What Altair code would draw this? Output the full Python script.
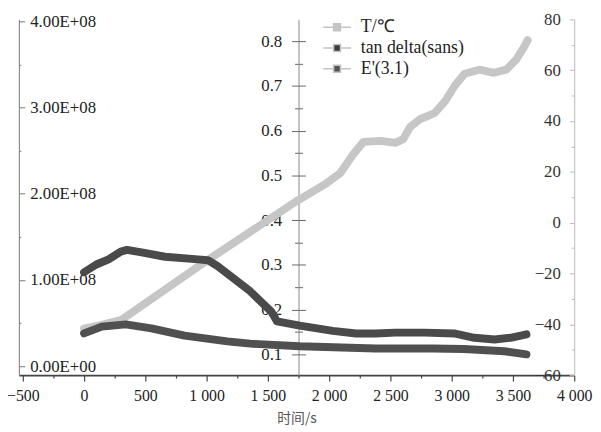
import altair as alt
import pandas as pd

# ---------------- data ----------------
time_T = [0, 145, 306, 1000, 1735, 1975, 2090, 2200, 2280, 2420, 2540, 2605,
          2660, 2740, 2860, 2945, 3025, 3105, 3225, 3345, 3445, 3525, 3590, 3620]
temp_T = [-41.7, -40.2, -38.2, -15.0, 8.5, 15.4, 19.5, 27.1, 31.8, 32.2, 31.4, 32.9,
          37.6, 40.7, 43.1, 47.7, 53.9, 58.6, 60.2, 59.0, 60.2, 64.1, 69.1, 71.8]

time_E = [0, 100, 200, 300, 350, 470, 660, 930, 1010, 1090, 1355, 1530, 1575,
          1760, 2030, 2220, 2380, 2540, 2780, 3020, 3185, 3350, 3480, 3610]
E_mod = [1.09e8, 1.18e8, 1.24e8, 1.33e8, 1.35e8, 1.32e8, 1.27e8, 1.24e8, 1.23e8,
         1.16e8, 0.87e8, 0.63e8, 0.52e8, 0.47e8, 0.41e8, 0.38e8, 0.38e8, 0.39e8,
         0.39e8, 0.38e8, 0.33e8, 0.31e8, 0.33e8, 0.37e8]

time_tan = [0, 145, 340, 550, 820, 1170, 1355, 1760, 2380, 2840, 3100, 3430, 3610]
tan_d = [0.147, 0.162, 0.167, 0.158, 0.142, 0.129, 0.124, 0.118, 0.113, 0.113,
         0.112, 0.107, 0.100]

series_names = ["T/℃", "tan delta(sans)", "E'(3.1)"]
series_colors = ["#c4c4c4", "#3c3c3c", "#555555"]

x_ticks = list(range(-500, 4001, 250))
E_ticks = [i * 0.5e8 for i in range(0, 9)]
tan_ticks = [round(0.1 + i * 0.05, 2) for i in range(0, 15)]
T_ticks = list(range(-60, 81, 10))

# ---------------- layout ----------------
W, H = 562, 360
MID = 283          # middle axis position from the plot's left edge
FONT = "Liberation Serif"

dfT = pd.DataFrame({"t": time_T, "v": temp_T})
dfE = pd.DataFrame({"t": time_E, "v": E_mod})
dfTan = pd.DataFrame({"t": time_tan, "v": tan_d})
dfLeg = pd.DataFrame({"series": series_names})

xscale = alt.Scale(domain=[-532, 4000], nice=False, zero=False)
xaxis = alt.Axis(
    values=x_ticks,
    labelExpr="datum.value % 500 == 0 ? replace(format(datum.value, ',d'), ',', ' ') : ''",
    tickSize={"condition": {"test": "datum.value % 500 == 0", "value": 6}, "value": 3},
    labelFont=FONT, labelFontSize=16, labelColor="#222", labelPadding=7,
    labelOverlap=False, labelFlush=False, labelBound=False,
    domainColor="#444", domainWidth=2, tickColor="#444", tickWidth=1.2,
    grid=False, title="时间/s", titleFont="Noto Sans CJK SC", titleFontSize=14,
    titleFontWeight="normal", titleColor="#555", titlePadding=8,
)

X = alt.X("t:Q", scale=xscale, axis=xaxis)

line_kw = dict(strokeWidth=8, strokeCap="round", strokeJoin="round")

T_layer = alt.Chart(dfT).mark_line(color="#c6c6c6", **line_kw).encode(
    x=X,
    y=alt.Y("v:Q", scale=alt.Scale(domain=[-60, 80], nice=False, zero=False),
            axis=alt.Axis(orient="left", offset=-W, values=T_ticks,
                          labelExpr="datum.value % 20 == 0 ? format(datum.value, 'd') : ''",
                          tickSize={"condition": {"test": "datum.value % 20 == 0", "value": 5}, "value": 3},
                          labelPadding=9, labelFont=FONT, labelFontSize=17, labelColor="#333",
                          domainColor="#bbbbbb", tickColor="#bbbbbb", grid=False,
                          labelOverlap=False, labelFlush=False, labelBound=False, title=None)),
)

tan_layer = alt.Chart(dfTan).mark_line(color="#505050", **line_kw).encode(
    x=X,
    y=alt.Y("v:Q", scale=alt.Scale(domain=[0.0536, 0.8486], nice=False, zero=False),
            axis=alt.Axis(orient="left", offset=-MID, values=tan_ticks,
                          labelExpr="round(datum.value * 100) % 10 == 0 ? format(datum.value, '.1f') : ''",
                          tickSize={"condition": {"test": "round(datum.value * 100) % 10 == 0", "value": 7}, "value": 4},
                          labelPadding=10, labelFont=FONT, labelFontSize=17, labelColor="#222",
                          domainColor="#888", tickColor="#666", grid=False,
                          labelOverlap=False, labelFlush=False, labelBound=False, title=None)),
)

tan_dup = alt.Chart(dfTan).transform_filter("false").mark_line().encode(
    x=X,
    y=alt.Y("v:Q", scale=alt.Scale(domain=[0.0536, 0.8486], nice=False, zero=False),
            axis=alt.Axis(orient="right", offset=-(W - MID), values=tan_ticks, labels=False,
                          tickSize={"condition": {"test": "round(datum.value * 100) % 10 == 0", "value": 7}, "value": 4},
                          domain=False, tickColor="#666", grid=False, title=None)),
)

E_layer = alt.Chart(dfE).mark_line(color="#4a4a4a", **line_kw).encode(
    x=X,
    y=alt.Y("v:Q", scale=alt.Scale(domain=[-0.1032e8, 4.0229e8], nice=False, zero=False),
            axis=alt.Axis(orient="right", offset=-W, values=E_ticks,
                          labelExpr="datum.value % 100000000 == 0 ? (datum.value == 0 ? '0.00E+00' : format(datum.value / 1e8, '.2f') + 'E+08') : ''",
                          tickSize={"condition": {"test": "datum.value % 100000000 == 0", "value": 6}, "value": 2},
                          labelPadding=5, labelFont=FONT, labelFontSize=17, labelColor="#222",
                          domainColor="#777", tickColor="#777", grid=False,
                          labelOverlap=False, labelFlush=False, labelBound=False, title=None)),
)

sym_path = "M-2,0H-0.5M0.5,0H2M-0.5,-0.5H0.5V0.5H-0.5Z"
legend_layer = alt.Chart(dfLeg).transform_filter("false").mark_point(filled=True, shape=sym_path).encode(
    color=alt.Color("series:N",
                    scale=alt.Scale(domain=series_names, range=series_colors),
                    legend=alt.Legend(orient="none", legendX=313, legendY=-1, title=None,
                                      symbolType=sym_path, symbolSize=196,
                                      symbolStrokeColor="#c4c4c4", symbolStrokeWidth=1.5,
                                      symbolOpacity=1, labelFont=FONT, labelFontSize=18,
                                      labelColor="#222", labelOffset=15, rowPadding=3,
                                      padding=0)),
)

chart = alt.layer(T_layer, tan_layer, E_layer, tan_dup, legend_layer).resolve_scale(
    y="independent"
).properties(
    width=W, height=H,
    autosize=alt.AutoSizeParams(type="none"),
    padding={"left": 11, "top": 9, "right": 19, "bottom": 54},
).configure_view(stroke="transparent")

chart.save("out.html", embed_options={"renderer": "svg", "actions": False})
